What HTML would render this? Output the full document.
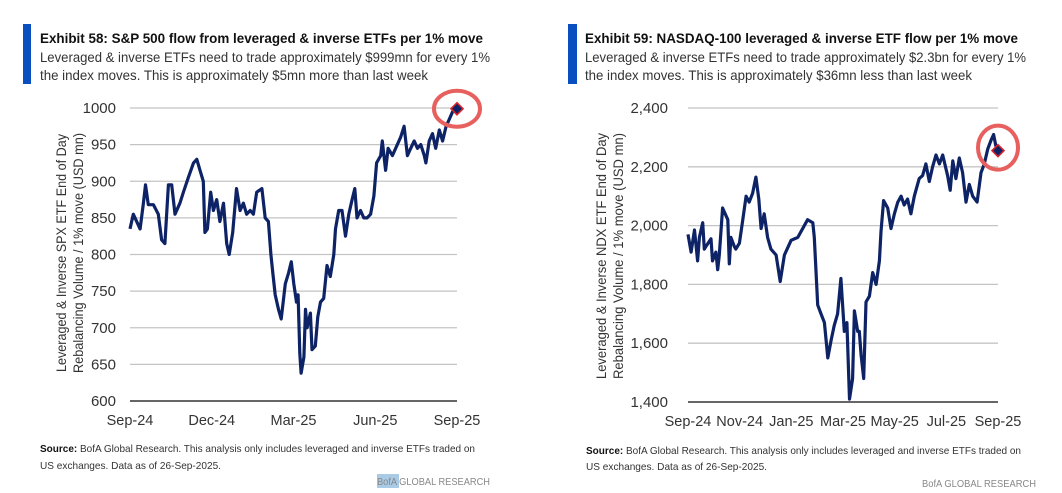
<!DOCTYPE html>
<html><head><meta charset="utf-8"><style>
html,body{margin:0;padding:0;background:#fff;}
svg{display:block;font-family:"Liberation Sans",sans-serif;}
</style></head><body>
<svg id="root" width="1062" height="493" viewBox="0 0 1062 493">
<g>
  <rect x="23" y="24" width="8" height="60" fill="#0a4fc0"/>
  <text x="40" y="43" font-size="14" font-weight="bold" fill="#111" textLength="443" lengthAdjust="spacingAndGlyphs">Exhibit 58: S&amp;P 500 flow from leveraged &amp; inverse ETFs per 1% move</text>
  <text x="40" y="62" font-size="14" fill="#333" textLength="450" lengthAdjust="spacingAndGlyphs">Leveraged &amp; inverse ETFs need to trade approximately $999mn for every 1%</text>
  <text x="40" y="80" font-size="14" fill="#333" textLength="388" lengthAdjust="spacingAndGlyphs">the index moves. This is approximately $5mn more than last week</text>
  <g id="plot58"></g>
  <text transform="translate(66,253) rotate(-90)" text-anchor="middle" font-size="14" fill="#333" textLength="238" lengthAdjust="spacingAndGlyphs">Leveraged &amp; Inverse SPX ETF End of Day</text>
  <text transform="translate(83,253) rotate(-90)" text-anchor="middle" font-size="14" fill="#333" textLength="240" lengthAdjust="spacingAndGlyphs">Rebalancing Volume / 1% move (USD mn)</text>
  <text x="40" y="452" font-size="10.5" fill="#333" textLength="435" lengthAdjust="spacingAndGlyphs"><tspan font-weight="bold" fill="#111">Source:</tspan> BofA Global Research.  This analysis only includes leveraged and inverse ETFs traded on</text>
  <text x="40" y="469" font-size="10.5" fill="#333" textLength="181" lengthAdjust="spacingAndGlyphs">US exchanges.  Data as of 26-Sep-2025.</text>
  <rect x="377" y="474" width="22" height="14" fill="#a9cbe6"/>
  <text x="377" y="485" font-size="10.5" fill="#888" textLength="113" lengthAdjust="spacingAndGlyphs">BofA GLOBAL RESEARCH</text>
</g>
<g>
  <rect x="568" y="24" width="9" height="60" fill="#0a4fc0"/>
  <text x="585" y="43" font-size="14" font-weight="bold" fill="#111" textLength="433" lengthAdjust="spacingAndGlyphs">Exhibit 59: NASDAQ-100 leveraged &amp; inverse ETF flow per 1% move</text>
  <text x="585" y="62" font-size="14" fill="#333" textLength="441" lengthAdjust="spacingAndGlyphs">Leveraged &amp; inverse ETFs need to trade approximately $2.3bn for every 1%</text>
  <text x="585" y="80" font-size="14" fill="#333" textLength="387" lengthAdjust="spacingAndGlyphs">the index moves. This is approximately $36mn less than last week</text>
  <g id="plot59"></g>
  <text transform="translate(606,256) rotate(-90)" text-anchor="middle" font-size="14" fill="#333" textLength="246" lengthAdjust="spacingAndGlyphs">Leveraged &amp; Inverse NDX ETF End of Day</text>
  <text x="0" y="0" transform="translate(623,256) rotate(-90)" text-anchor="middle" font-size="14" fill="#333" textLength="246" lengthAdjust="spacingAndGlyphs">Rebalancing Volume / 1% move (USD mn)</text>
  <text x="586" y="454" font-size="10.5" fill="#333" textLength="435" lengthAdjust="spacingAndGlyphs"><tspan font-weight="bold" fill="#111">Source:</tspan> BofA Global Research.  This analysis only includes leveraged and inverse ETFs traded on</text>
  <text x="586" y="470" font-size="10.5" fill="#333" textLength="181" lengthAdjust="spacingAndGlyphs">US exchanges.  Data as of 26-Sep-2025.</text>
  <text x="922" y="487" font-size="10.5" fill="#888" textLength="114" lengthAdjust="spacingAndGlyphs">BofA GLOBAL RESEARCH</text>
</g>
</svg>
<script>
// ---- Exhibit 58 data (months since Sep-24, USD mn) ----
const spxMonths = [0,0.12,0.37,0.49,0.57,0.67,0.86,1.04,1.16,1.28,1.41,1.53,1.65,1.83,1.96,2.14,2.33,2.45,2.57,2.69,2.75,2.84,2.96,3.06,3.18,3.3,3.43,3.55,3.64,3.77,3.91,4.04,4.16,4.28,4.41,4.53,4.65,4.84,4.96,5.08,5.17,5.24,5.33,5.45,5.55,5.7,5.82,5.92,6.01,6.11,6.17,6.23,6.28,6.38,6.44,6.5,6.62,6.68,6.8,6.89,6.99,7.11,7.23,7.35,7.48,7.54,7.66,7.78,7.91,8.03,8.15,8.25,8.33,8.46,8.58,8.7,8.83,8.95,9.05,9.2,9.26,9.38,9.47,9.63,9.81,9.93,10.06,10.18,10.3,10.43,10.55,10.67,10.8,10.86,10.98,11.1,11.22,11.35,11.47,11.6,11.72,11.84,12.0];
const spxValues = [835,855,835,870,895,868,868,855,820,815,895,895,855,870,885,905,925,930,915,900,830,835,885,860,875,845,870,815,800,830,890,860,870,855,860,855,885,890,850,845,800,775,745,725,712,760,775,790,760,735,745,665,638,660,725,700,720,670,675,715,735,740,785,770,800,835,860,860,825,855,875,890,850,860,850,850,855,880,925,935,955,915,945,935,950,960,975,935,945,955,945,950,935,925,955,965,945,970,955,975,985,995,999];
const spxYTicks = [600,650,700,750,800,850,900,950,1000];
const spxXTicks = [0,3,6,9,12];
const spxXLabels = ["Sep-24","Dec-24","Mar-25","Jun-25","Sep-25"];
// ---- Exhibit 59 data ----
const ndxMonths = [0,0.12,0.25,0.37,0.44,0.57,0.63,0.7,0.89,0.95,1.08,1.15,1.21,1.34,1.54,1.6,1.66,1.79,1.85,1.99,2.12,2.25,2.37,2.5,2.63,2.74,2.83,2.95,3.08,3.21,3.41,3.57,3.73,3.99,4.25,4.63,4.83,4.89,5.02,5.15,5.28,5.41,5.54,5.66,5.79,5.92,6.05,6.15,6.25,6.37,6.44,6.57,6.63,6.7,6.8,6.89,7.02,7.15,7.28,7.41,7.47,7.57,7.73,7.86,7.99,8.12,8.25,8.37,8.5,8.63,8.76,8.95,9.08,9.21,9.34,9.47,9.6,9.73,9.86,10.05,10.15,10.25,10.37,10.5,10.63,10.76,10.89,11.02,11.19,11.34,11.47,11.6,11.73,11.83,11.92,12.0];
const ndxValues = [1970,1910,1985,1880,1960,2010,1920,1930,1955,1880,1910,1850,1900,2060,2020,1870,1960,1930,1920,1940,2020,2100,2080,2110,2165,2090,1990,2040,1960,1920,1900,1810,1900,1950,1960,2020,2010,1960,1730,1700,1670,1550,1610,1660,1700,1820,1640,1670,1410,1480,1710,1640,1640,1560,1480,1740,1760,1840,1800,1880,1980,2085,2060,1990,2040,2080,2100,2070,2090,2040,2100,2160,2170,2210,2150,2200,2240,2210,2240,2170,2120,2220,2160,2230,2180,2080,2140,2100,2080,2180,2210,2260,2290,2310,2270,2255];
const ndxYTicks = [1400,1600,1800,2000,2200,2400];
const ndxYLabels = ["1,400","1,600","1,800","2,000","2,200","2,400"];
const ndxXTicks = [0,2,4,6,8,10,12];
const ndxXLabels = ["Sep-24","Nov-24","Jan-25","Mar-25","May-25","Jul-25","Sep-25"];

const NS = "http://www.w3.org/2000/svg";
function mk(tag, attrs, parent){ const e=document.createElementNS(NS,tag); for(const k in attrs) e.setAttribute(k,attrs[k]); parent.appendChild(e); return e; }

function drawChart(g, cfg){
  const x = m => cfg.x0 + (m - cfg.xmin)/(cfg.xmax-cfg.xmin)*(cfg.x1-cfg.x0);
  const y = v => cfg.y0 - (v - cfg.ymin)/(cfg.ymax-cfg.ymin)*(cfg.y0-cfg.y1);
  cfg.yTicks.forEach((t,i)=>{
    if(i>0){
      const l = mk('line',{x1:cfg.x0,x2:cfg.x1,y1:y(t),y2:y(t),stroke:'#c4c4c4','stroke-width':1.3},g);
      
      
    }
    const tx = mk('text',{x:cfg.labelX,y:y(t)+5,'text-anchor':'end','font-size':15,fill:'#333'},g);
    tx.textContent = cfg.yLabels[i];
    
    
  });
  const ax = mk('line',{x1:cfg.x0,x2:cfg.x1,y1:y(cfg.ymin),y2:y(cfg.ymin),stroke:'#333','stroke-width':1.6},g);
  
  
  cfg.xTicks.forEach((t,i)=>{
    const tx = mk('text',{x:x(t),y:y(cfg.ymin)+24,'text-anchor':'middle','font-size':14.5,fill:'#333'},g);
    tx.textContent = cfg.xLabels[i];
    
    
  });
  const d = cfg.months.map((m,i)=>(i?'L':'M')+x(m).toFixed(1)+','+y(cfg.values[i]).toFixed(1)).join('');
  const p = mk('path',{d:d,fill:'none',stroke:'#0d2366','stroke-width':3.2,'stroke-linejoin':'round'},g);
  
  
  const n = cfg.months.length-1, lx = x(cfg.months[n]), ly = y(cfg.values[n]);
  const c = mk('ellipse',{cx:lx+cfg.cdx,cy:ly+cfg.cdy,rx:cfg.rx,ry:cfg.ry,fill:'none',stroke:'#e8605e','stroke-width':4},g);
  
  
  const s=6;
  const dm = mk('polygon',{points:`${lx},${ly-s} ${lx+s},${ly} ${lx},${ly+s} ${lx-s},${ly}`,fill:'#0d2366',stroke:'#d9232b','stroke-width':1.6},g);
  
  
}

drawChart(document.getElementById('plot58'),{x0:130,x1:457,y0:401,y1:108,xmin:0,xmax:12,ymin:600,ymax:1000,
  labelX:116,yTicks:spxYTicks,yLabels:spxYTicks.map(String),xTicks:spxXTicks,xLabels:spxXLabels,
  months:spxMonths,values:spxValues,cdx:0,cdy:0,rx:23,ry:18});
drawChart(document.getElementById('plot59'),{x0:688,x1:998,y0:402,y1:108,xmin:0,xmax:12,ymin:1400,ymax:2400,
  labelX:668,yTicks:ndxYTicks,yLabels:ndxYLabels,xTicks:ndxXTicks,xLabels:ndxXLabels,
  months:ndxMonths,values:ndxValues,cdx:0,cdy:-3,rx:20,ry:22});
</script>
</body></html>
